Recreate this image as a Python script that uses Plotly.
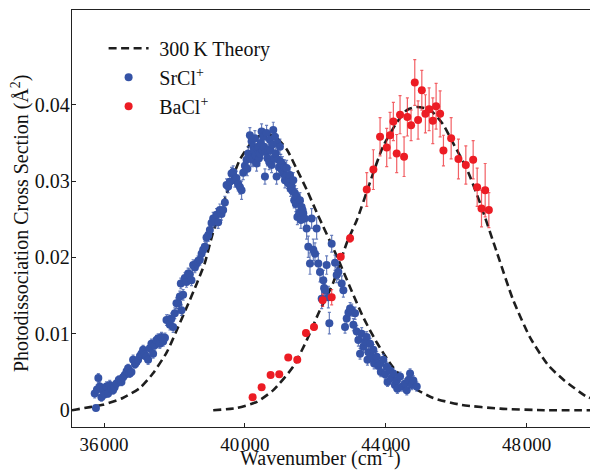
import plotly.graph_objects as go

# ---------------- data ----------------
sr_x = [35770, 35735, 35800, 35838, 35878, 35925, 35971, 36020, 36068, 36114, 36162, 36210, 36256, 36300,
        36352, 36420, 36494, 36540, 36588, 36640, 36683, 36730, 36778, 36825, 36880, 36920, 36967, 37020,
        37062, 37109, 37160, 37204, 37251, 37299, 37346, 37394, 37441, 37489, 37536, 37583, 37631, 37680,
        37730, 37773, 37820, 37870, 37915, 37962, 38010, 38057, 38105, 38152, 38180, 38199, 38246, 38294,
        38341, 38388, 38436, 38483, 38530, 38580, 38625, 38670, 38720, 38770, 38815, 38862, 38910, 38957,
        39005, 39052, 39099, 39150, 39194, 39241, 39289, 39336, 39383, 39431, 39479, 39525, 39573, 39620,
        39668, 39715, 39760, 39810, 39860, 39905, 39952, 40000, 40047, 40070, 40094, 40142, 40165, 40190,
        40215, 40237, 40260, 40284, 40310, 40332, 40355, 40379, 40400, 40427, 40450, 40474, 40500, 40521,
        40545, 40569, 40592, 40616, 40640, 40664, 40690, 40711, 40735, 40758, 40780, 40806, 40830, 40853,
        40875, 40900, 40925, 40948, 40970, 40995, 41020, 41043, 41065, 41090, 41115, 41137, 41160, 41185,
        41210, 41232, 41255, 41279, 41300, 41327, 41350, 41374, 41400, 41421, 41445, 41469, 41490, 41516,
        41540, 41563, 41590, 41611, 41635, 41658, 41700, 41753, 41800, 41848, 41895, 41943, 41990, 42037,
        42085, 42132, 42180, 42227, 42250, 42274, 42321, 42370, 42398, 42464, 42560, 42606, 42654, 42749,
        42796, 42843, 42891, 42940, 42986, 43033, 43080, 43128, 43175, 43222, 43270, 43317, 43364, 43410,
        43459, 43480, 43506, 43554, 43600, 43648, 43670, 43743, 43790, 43838, 43860, 43932, 43980, 44027,
        44050, 44122, 44170, 44216, 44260, 44311, 44330, 44406, 44460, 44548, 44596, 44650, 44690, 44740,
        44785, 44880]
sr_y = [0.0003, 0.0022, 0.0027, 0.0042, 0.0031, 0.0017, 0.0026, 0.0021, 0.0031, 0.0022, 0.0033, 0.0028, 0.0026, 0.0030,
        0.0035, 0.0040, 0.0037, 0.0043, 0.0046, 0.0051, 0.0055, 0.0048, 0.0050, 0.0066, 0.0060, 0.0063, 0.0066, 0.0071,
        0.0074, 0.0079, 0.0073, 0.0070, 0.0066, 0.0081, 0.0087, 0.0074, 0.0085, 0.0092, 0.0094, 0.0087, 0.0096, 0.0090,
        0.0095, 0.0118, 0.0118, 0.0112, 0.0120, 0.0109, 0.0127, 0.0140, 0.0140, 0.0149, 0.0166, 0.0131, 0.0151, 0.0173,
        0.0168, 0.0179, 0.0178, 0.0170, 0.0190, 0.0187, 0.0192, 0.0195, 0.0197, 0.0205, 0.0210, 0.0214, 0.0226, 0.0229,
        0.0236, 0.0245, 0.0251, 0.0248, 0.0256, 0.0246, 0.0262, 0.0257, 0.0262, 0.0272, 0.0295, 0.0293, 0.0299, 0.0310,
        0.0312, 0.0301, 0.0304, 0.0296, 0.0292, 0.0288, 0.0311, 0.0320, 0.0328, 0.0316, 0.0336, 0.0360, 0.0330, 0.0352,
        0.0328, 0.0345, 0.0340, 0.0356, 0.0333, 0.0323, 0.0342, 0.0345, 0.0330, 0.0336, 0.0350, 0.0365, 0.0340, 0.0358,
        0.0345, 0.0306, 0.0338, 0.0363, 0.0330, 0.0341, 0.0325, 0.0354, 0.0340, 0.0321, 0.0348, 0.0367, 0.0330, 0.0358,
        0.0336, 0.0306, 0.0350, 0.0328, 0.0318, 0.0345, 0.0325, 0.0315, 0.0322, 0.0310, 0.0318, 0.0301, 0.0306, 0.0317,
        0.0300, 0.0297, 0.0303, 0.0308, 0.0290, 0.0293, 0.0287, 0.0301, 0.0275, 0.0284, 0.0270, 0.0280, 0.0253, 0.0271,
        0.0258, 0.0275, 0.0249, 0.0266, 0.0262, 0.0258, 0.0251, 0.0238, 0.0214, 0.0192, 0.0251, 0.0210, 0.0205, 0.0238,
        0.0192, 0.0181, 0.0146, 0.0170, 0.0160, 0.0157, 0.0190, 0.0148, 0.0114, 0.0218, 0.0193, 0.0177, 0.0181, 0.0166,
        0.0157, 0.0109, 0.0120, 0.0128, 0.0133, 0.0131, 0.0112, 0.0127, 0.0103, 0.0092, 0.0074, 0.0100, 0.0083, 0.0090,
        0.0096, 0.0066, 0.0076, 0.0087, 0.0070, 0.0079, 0.0061, 0.0070, 0.0058, 0.0061, 0.0050, 0.0066, 0.0047, 0.0057,
        0.0037, 0.0052, 0.0042, 0.0048, 0.0033, 0.0039, 0.0028, 0.0044, 0.0031, 0.0035, 0.0026, 0.0040, 0.0048, 0.0033,
        0.0039, 0.0031]
sr_err = [0.0002, 0.0006, 0.0006, 0.0006, 0.0006, 0.0005, 0.0006, 0.0005, 0.0006, 0.0005, 0.0006, 0.0005, 0.0005, 0.0005,
          0.0005, 0.0005, 0.0005, 0.0005, 0.0005, 0.0005, 0.0005, 0.0005, 0.0005, 0.0006, 0.0005, 0.0005, 0.0006, 0.0006,
          0.0006, 0.0006, 0.0006, 0.0006, 0.0006, 0.0006, 0.0006, 0.0006, 0.0006, 0.0006, 0.0006, 0.0006, 0.0006, 0.0006,
          0.0006, 0.0007, 0.0007, 0.0007, 0.0007, 0.0007, 0.0007, 0.0007, 0.0007, 0.0007, 0.0007, 0.0007, 0.0007, 0.0007,
          0.0007, 0.0007, 0.0007, 0.0007, 0.0007, 0.0007, 0.0007, 0.0007, 0.0007, 0.0007, 0.0007, 0.0007, 0.0007, 0.0008,
          0.0008, 0.0008, 0.0008, 0.0008, 0.0008, 0.0008, 0.0008, 0.0008, 0.0008, 0.0008, 0.0008, 0.0008, 0.0008, 0.0008,
          0.0008, 0.0009, 0.0009, 0.0009, 0.0009, 0.0012, 0.0009, 0.0009, 0.0009, 0.0009, 0.0009, 0.0010, 0.0009, 0.0010,
          0.0009, 0.0010, 0.0010, 0.0010, 0.0010, 0.0010, 0.0010, 0.0010, 0.0010, 0.0010, 0.0010, 0.0010, 0.0010, 0.0010,
          0.0010, 0.0010, 0.0010, 0.0010, 0.0010, 0.0010, 0.0010, 0.0010, 0.0010, 0.0010, 0.0010, 0.0010, 0.0010, 0.0010,
          0.0010, 0.0010, 0.0010, 0.0010, 0.0010, 0.0010, 0.0010, 0.0010, 0.0010, 0.0010, 0.0010, 0.0010, 0.0010, 0.0010,
          0.0010, 0.0010, 0.0010, 0.0010, 0.0010, 0.0010, 0.0010, 0.0010, 0.0010, 0.0010, 0.0010, 0.0010, 0.0010, 0.0010,
          0.0010, 0.0010, 0.0011, 0.0011, 0.0011, 0.0011, 0.0012, 0.0014, 0.0014, 0.0014, 0.0013, 0.0014, 0.0014, 0.0014,
          0.0013, 0.0013, 0.0013, 0.0013, 0.0013, 0.0013, 0.0012, 0.0014, 0.0014, 0.0011, 0.0010, 0.0010, 0.0010, 0.0010,
          0.0009, 0.0008, 0.0008, 0.0008, 0.0008, 0.0008, 0.0008, 0.0008, 0.0008, 0.0008, 0.0007, 0.0008, 0.0007, 0.0007,
          0.0007, 0.0007, 0.0007, 0.0007, 0.0007, 0.0007, 0.0007, 0.0007, 0.0007, 0.0007, 0.0006, 0.0007, 0.0006, 0.0006,
          0.0006, 0.0006, 0.0006, 0.0006, 0.0006, 0.0006, 0.0006, 0.0006, 0.0006, 0.0006, 0.0006, 0.0006, 0.0006, 0.0006,
          0.0006, 0.0006]

ba_x = [40219, 40475, 40730, 40975, 41231, 41487, 41734, 41962, 42209, 42464, 42721, 42986, 43460, 43648,
        43838, 44027, 44122, 44216, 44311, 44406, 44520, 44614, 44719, 44824, 44918, 45024, 45126, 45231,
        45336, 45430, 45544, 45638, 45857, 46064, 46274, 46482, 46596, 46719, 46823, 46928]
ba_y = [0.0017, 0.0030, 0.0046, 0.0047, 0.0069, 0.0066, 0.0101, 0.0109, 0.0144, 0.0148, 0.0201, 0.0225, 0.0289, 0.0315,
        0.0358, 0.0344, 0.0360, 0.0378, 0.0336, 0.0387, 0.0332, 0.0384, 0.0373, 0.0429, 0.0380, 0.0419, 0.0388, 0.0394,
        0.0379, 0.0398, 0.0388, 0.0340, 0.0356, 0.0329, 0.0321, 0.0328, 0.0292, 0.0264, 0.0288, 0.0262]
ba_err = [0.0003, 0.0003, 0.0003, 0.0003, 0.0003, 0.0003, 0.0004, 0.0004, 0.0008, 0.0010, 0.0004, 0.0005, 0.0022, 0.0026,
          0.0025, 0.0025, 0.0030, 0.0025, 0.0025, 0.0025, 0.0026, 0.0025, 0.0020, 0.0030, 0.0025, 0.0026, 0.0025, 0.0028,
          0.0030, 0.0030, 0.0030, 0.0020, 0.0027, 0.0026, 0.0025, 0.0025, 0.0025, 0.0024, 0.0035, 0.0023]

sr_theory_x = [35090, 35215, 35600, 35964, 36532, 37015, 37385, 37783, 38067, 38351, 38635, 38863, 39090, 39488,
               39857, 40198, 40570, 40911, 41195, 41479, 41763, 42048, 42617, 42986, 43356, 43754, 44209, 44778,
               45347, 46150, 47250, 48500, 49800]
sr_theory_y = [0.0000, 0.0001, 0.0004, 0.0007, 0.0016, 0.0029, 0.0048, 0.0076, 0.0105, 0.0135, 0.0166, 0.0193, 0.0232, 0.0284,
               0.0328, 0.0351, 0.0363, 0.0356, 0.0341, 0.0315, 0.0288, 0.0258, 0.0201, 0.0161, 0.0122, 0.0088, 0.0056, 0.0030,
               0.0016, 0.0007, 0.0002, 0.0000, 0.0000]

ba_theory_x = [39100, 39780, 40340, 40800, 41370, 41760, 42100, 42500, 42900, 43180, 43550, 43920, 44320, 44600,
               44890, 45260, 45630, 45910, 46310, 46680, 47160, 47620, 48100, 48610, 49070, 49690, 49800]
ba_theory_y = [0.0000, 0.0003, 0.0011, 0.0026, 0.0057, 0.0092, 0.0128, 0.0166, 0.0220, 0.0249, 0.0298, 0.0345, 0.0377, 0.0393,
               0.0397, 0.0393, 0.0374, 0.0350, 0.0315, 0.0271, 0.0206, 0.0144, 0.0095, 0.0059, 0.0039, 0.0018, 0.0016]

x_ticks = [36000, 40000, 44000, 48000]
x_ticklabels = ["36\u200a000", "40\u200a000", "44\u200a000", "48\u200a000"]
y_ticks = [0, 0.01, 0.02, 0.03, 0.04]
y_ticklabels = ["0", "0.01", "0.02", "0.03", "0.04"]

x_title = "Wavenumber (cm<sup>-1</sup>)"
y_title = "Photodissociation Cross Section (Å<sup>2</sup>)"
theory_name = "\u2009\u200a300\u2009K Theory"
sr_name = "\u2009\u200aSrCl<sup>+</sup>"
ba_name = "\u2009\u200aBaCl<sup>+</sup>"

# ---------------- figure ----------------
FONT = "Liberation Serif, Times New Roman, serif"
BLUE = "#3553a6"
RED = "#ec1c24"
DASH = "8px,4.5px"

fig = go.Figure()

fig.add_trace(go.Scatter(
    x=sr_theory_x, y=sr_theory_y, mode="lines", name=theory_name,
    line=dict(color="#1e1e1e", width=2.6, dash=DASH, shape="spline", smoothing=0.6)))
fig.add_trace(go.Scatter(
    x=ba_theory_x, y=ba_theory_y, mode="lines", showlegend=False,
    line=dict(color="#1e1e1e", width=2.6, dash=DASH, shape="spline", smoothing=0.6)))
fig.add_trace(go.Scatter(
    x=sr_x, y=sr_y, mode="markers", name=sr_name,
    marker=dict(color=BLUE, size=8),
    error_y=dict(type="data", array=sr_err, color="rgba(53,83,166,0.75)", thickness=1.2, width=1.5)))
fig.add_trace(go.Scatter(
    x=ba_x, y=ba_y, mode="markers", name=ba_name,
    marker=dict(color=RED, size=8),
    error_y=dict(type="data", array=ba_err, color="rgba(236,28,36,0.7)", thickness=1.2, width=1.5)))

fig.update_layout(
    width=590, height=470,
    margin=dict(l=72, r=0, t=10, b=43),
    paper_bgcolor="white", plot_bgcolor="white",
    font=dict(family=FONT, size=20, color="#111"),
    showlegend=True,
    legend=dict(x=0.061, y=0.955, xanchor="left", yanchor="top", bgcolor="rgba(0,0,0,0)",
                font=dict(family=FONT, size=20), itemwidth=40, tracegroupgap=0),
    xaxis=dict(range=[35090, 49800], showline=True, linecolor="#222", linewidth=1.3, mirror=True,
               ticks="inside", ticklen=4, tickcolor="#222", tickvals=x_ticks, ticktext=x_ticklabels,
               tickfont=dict(size=19), showgrid=False, zeroline=False, automargin=False),
    yaxis=dict(range=[-0.0022, 0.0524], showline=True, linecolor="#222", linewidth=1.3, mirror=False,
               ticks="inside", ticklen=4, tickcolor="#222", tickvals=y_ticks, ticktext=y_ticklabels,
               ticklabelstandoff=-3, showgrid=False, zeroline=False, automargin=False),
    annotations=[
        dict(text=x_title, xref="paper", yref="paper", x=0.479, y=-0.1031, xanchor="center", yanchor="bottom",
             yshift=-2, showarrow=False, font=dict(family=FONT, size=20, color="#111")),
        dict(text=y_title, xref="paper", yref="paper", x=-0.1004, y=0.489, xanchor="center", yanchor="middle",
             textangle=-90, showarrow=False, font=dict(family=FONT, size=20, color="#111")),
    ],
)

fig.write_html("out.html")
